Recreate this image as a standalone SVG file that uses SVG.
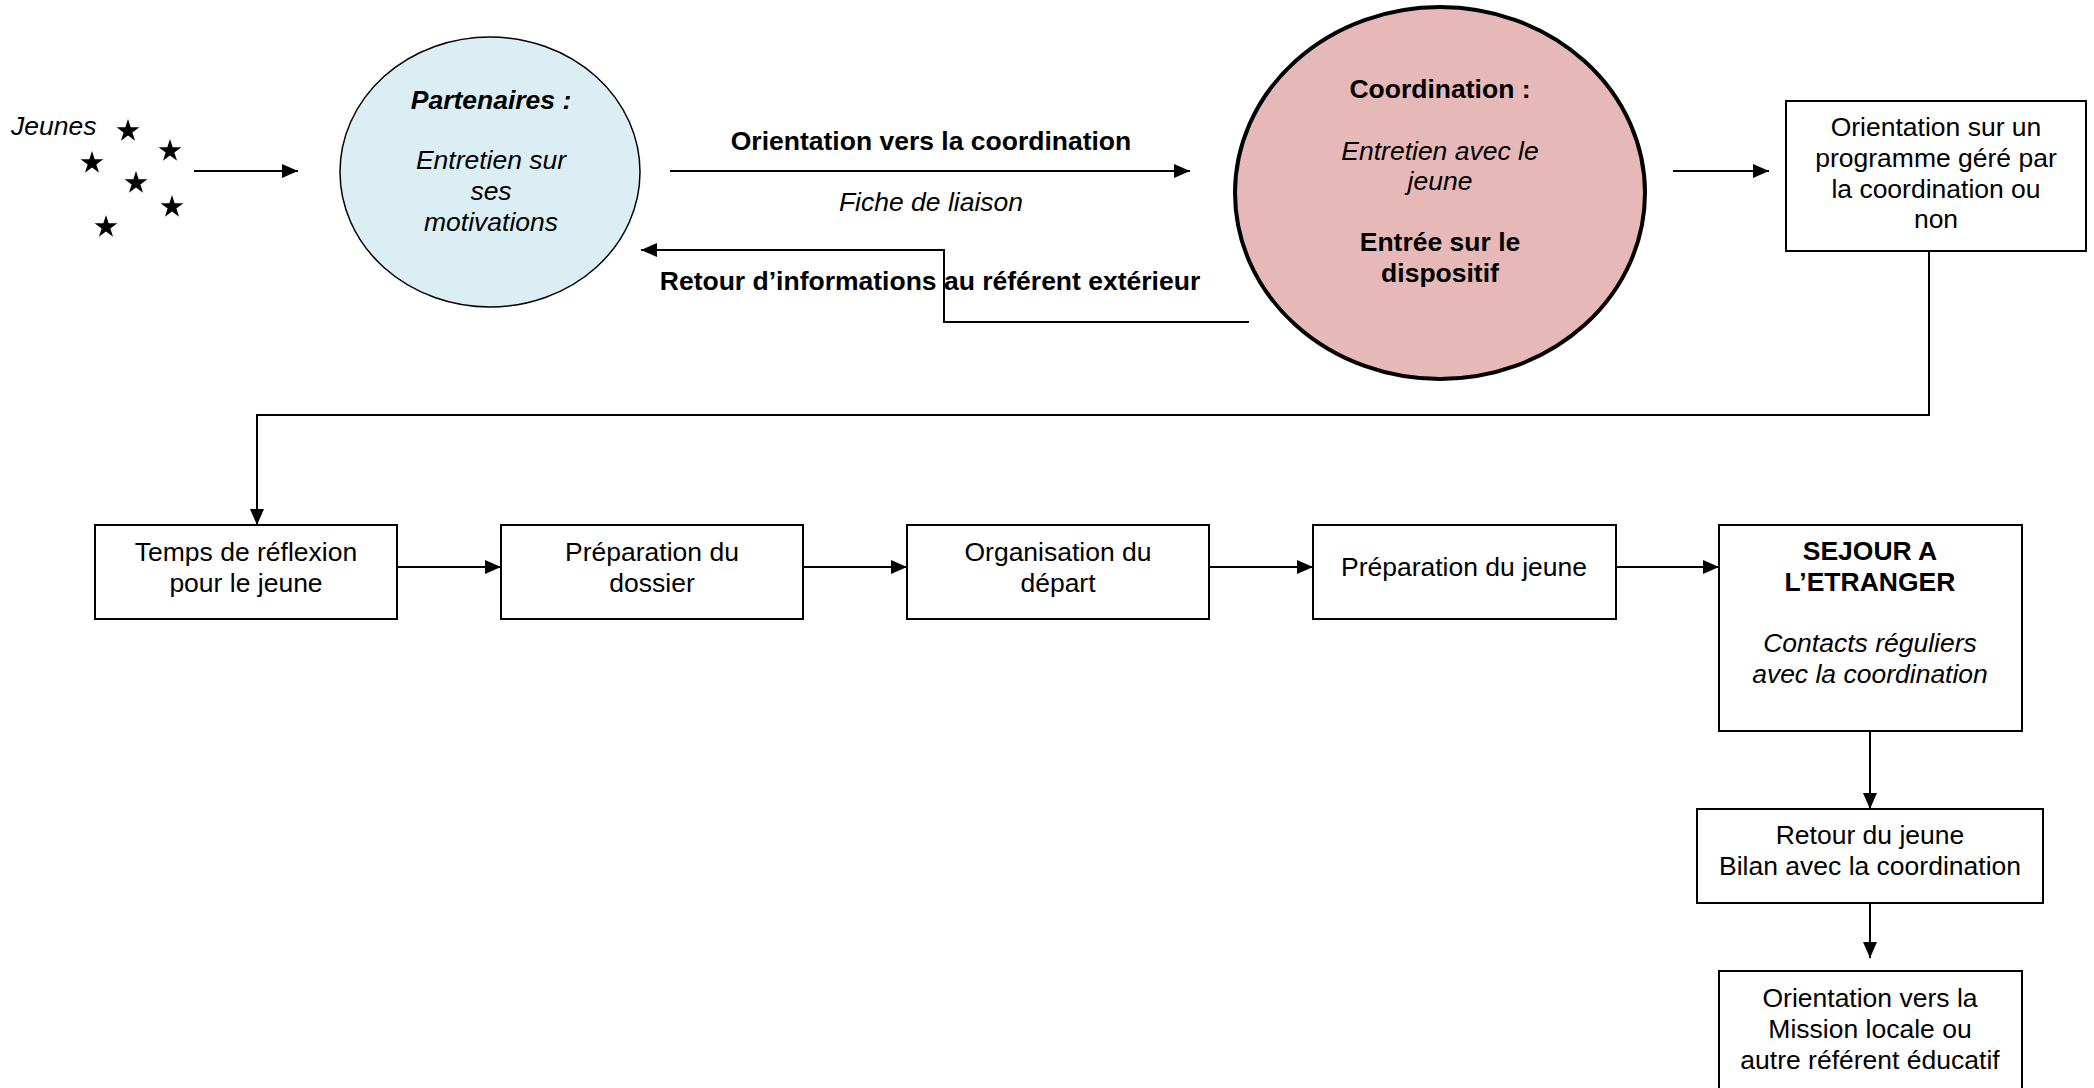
<svg xmlns="http://www.w3.org/2000/svg" width="2094" height="1088" viewBox="0 0 2094 1088">
<style>
text{font-family:"Liberation Sans",Arial,sans-serif;font-size:26.5px;fill:#000;text-anchor:middle}
.b{font-weight:bold}
.i{font-style:italic}
.box{fill:#fff;stroke:#000;stroke-width:2}
.ln{fill:none;stroke:#000;stroke-width:2}
</style>
<defs>
<marker id="ah" markerWidth="16" markerHeight="14" refX="16" refY="7" orient="auto" markerUnits="userSpaceOnUse"><path d="M0,0 L16,7 L0,14 z" fill="#000"/></marker>
<path id="star" d="M0,-12 L2.7,-3.72 L11.41,-3.71 L4.37,1.42 L7.05,9.71 L0,4.6 L-7.05,9.71 L-4.37,1.42 L-11.41,-3.71 L-2.7,-3.72 Z" fill="#000"/>
</defs>
<rect width="2094" height="1088" fill="#fff"/>

<g id="jeunes">
<text class="i" x="11" y="135" style="text-anchor:start">Jeunes</text>
<use href="#star" x="128" y="131"/>
<use href="#star" x="170" y="151"/>
<use href="#star" x="92" y="163"/>
<use href="#star" x="136" y="183"/>
<use href="#star" x="172" y="207"/>
<use href="#star" x="106" y="227"/>
</g>

<g id="partenaires">
<ellipse cx="490" cy="172" rx="150" ry="135" fill="#DAEEF3" stroke="#000" stroke-width="1.5"/>
<text class="b i" x="491" y="109">Partenaires :</text>
<text class="i" x="491" y="169">Entretien sur</text>
<text class="i" x="491" y="200">ses</text>
<text class="i" x="491" y="231">motivations</text>
</g>

<g id="coordination">
<ellipse cx="1440" cy="193" rx="205" ry="186" fill="#E6B8B7" stroke="#000" stroke-width="4"/>
<text class="b" x="1440" y="98">Coordination :</text>
<text class="i" x="1440" y="160">Entretien avec le</text>
<text class="i" x="1440" y="190">jeune</text>
<text class="b" x="1440" y="251">Entrée sur le</text>
<text class="b" x="1440" y="282">dispositif</text>
</g>

<g id="orientation-programme">
<rect class="box" x="1786" y="101" width="300" height="150"/>
<text x="1936" y="136">Orientation sur un</text>
<text x="1936" y="167">programme géré par</text>
<text x="1936" y="198">la coordination ou</text>
<text x="1936" y="228">non</text>
</g>

<g id="temps-reflexion">
<rect class="box" x="95" y="525" width="302" height="94"/>
<text x="246" y="561">Temps de réflexion</text>
<text x="246" y="592">pour le jeune</text>
</g>
<g id="preparation-dossier">
<rect class="box" x="501" y="525" width="302" height="94"/>
<text x="652" y="561">Préparation du</text>
<text x="652" y="592">dossier</text>
</g>
<g id="organisation-depart">
<rect class="box" x="907" y="525" width="302" height="94"/>
<text x="1058" y="561">Organisation du</text>
<text x="1058" y="592">départ</text>
</g>
<g id="preparation-jeune">
<rect class="box" x="1313" y="525" width="303" height="94"/>
<text x="1464" y="576">Préparation du jeune</text>
</g>
<g id="sejour">
<rect class="box" x="1719" y="525" width="303" height="206"/>
<text class="b" x="1870" y="560">SEJOUR A</text>
<text class="b" x="1870" y="591">L’ETRANGER</text>
<text class="i" x="1870" y="652">Contacts réguliers</text>
<text class="i" x="1870" y="683">avec la coordination</text>
</g>
<g id="retour-jeune">
<rect class="box" x="1697" y="809" width="346" height="94"/>
<text x="1870" y="844">Retour du jeune</text>
<text x="1870" y="875">Bilan avec la coordination</text>
</g>
<g id="orientation-mission">
<rect class="box" x="1719" y="971" width="303" height="130"/>
<text x="1870" y="1007">Orientation vers la</text>
<text x="1870" y="1038">Mission locale ou</text>
<text x="1870" y="1069">autre référent éducatif</text>
</g>

<g id="connectors">
<line class="ln" x1="194" y1="171" x2="298" y2="171" marker-end="url(#ah)"/>
<line class="ln" x1="670" y1="171" x2="1190" y2="171" marker-end="url(#ah)"/>
<text class="b" x="931" y="150">Orientation vers la coordination</text>
<text class="i" x="931" y="211">Fiche de liaison</text>
<polyline class="ln" points="1249,322 944,322 944,250 641,250" marker-end="url(#ah)"/>
<text class="b" x="930" y="290">Retour d’informations au référent extérieur</text>
<line class="ln" x1="1673" y1="171" x2="1769" y2="171" marker-end="url(#ah)"/>
<polyline class="ln" points="1929,251 1929,415 257,415 257,525" marker-end="url(#ah)"/>
<line class="ln" x1="397" y1="567" x2="501" y2="567" marker-end="url(#ah)"/>
<line class="ln" x1="803" y1="567" x2="907" y2="567" marker-end="url(#ah)"/>
<line class="ln" x1="1209" y1="567" x2="1313" y2="567" marker-end="url(#ah)"/>
<line class="ln" x1="1616" y1="567" x2="1719" y2="567" marker-end="url(#ah)"/>
<line class="ln" x1="1870" y1="731" x2="1870" y2="809" marker-end="url(#ah)"/>
<line class="ln" x1="1870" y1="903" x2="1870" y2="958" marker-end="url(#ah)"/>
</g>
</svg>
